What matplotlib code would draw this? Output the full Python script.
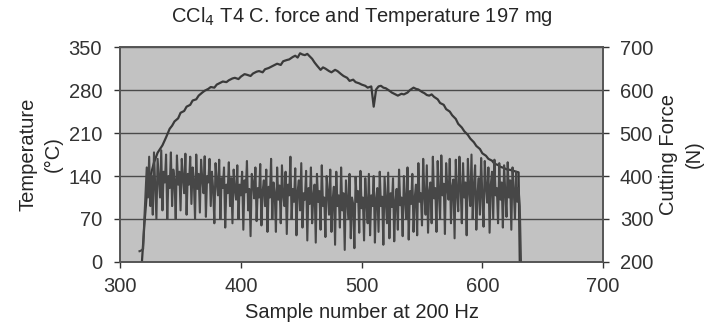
import numpy as np
import matplotlib
matplotlib.use('Agg')
import matplotlib.pyplot as plt

plt.rcParams['font.family'] = ['Liberation Sans', 'DejaVu Sans']

# smooth curve: temperature (left axis, deg C)
temp_x = [318, 320, 322, 325, 328, 331, 335, 338, 341, 343, 345, 348, 350, 353,
          355, 358, 360, 363, 365, 368, 370, 373, 375, 378, 380, 383, 385, 388,
          390, 393, 395, 398, 400, 403, 405, 408, 410, 413, 415, 418, 420, 423,
          425, 428, 430, 433, 435, 438, 440, 443, 445, 447, 449, 451, 453, 455,
          457, 459, 461, 463, 466, 468, 470, 473, 475, 478, 480, 483, 485, 488,
          490, 493, 495, 498, 500, 503, 505, 508, 510, 512, 514, 516, 518, 520,
          523, 525, 528, 530, 533, 535, 538, 540, 543, 545, 547, 550, 552, 554,
          556, 558, 560, 563, 565, 568, 570, 573, 575, 578, 580, 583, 585, 588,
          590, 593, 595, 598, 600, 603, 605, 608, 610, 613, 615, 618, 620, 623,
          625, 628, 630, 631]
temp_c = [0, 60, 110, 140, 162, 178, 190, 203, 217, 222, 229, 234, 243, 246,
          253, 256, 263, 265, 271, 276, 279, 282, 285, 284, 289, 292, 294, 293,
          296, 299, 300, 298, 302, 306, 305, 303, 307, 310, 311, 309, 314, 316,
          318, 321, 323, 321, 327, 329, 330, 334, 336, 333, 340, 338, 337, 339,
          335, 331, 325, 320, 313, 317, 315, 311, 309, 313, 311, 306, 303, 300,
          295, 297, 293, 291, 289, 287, 284, 286, 253, 281, 286, 287, 284, 283,
          279, 276, 273, 271, 274, 273, 276, 280, 284, 282, 281, 277, 275, 272,
          271, 273, 269, 265, 259, 256, 249, 245, 239, 233, 225, 219, 213, 207,
          201, 195, 189, 184, 177, 173, 168, 165, 160, 158, 155, 153, 151, 150,
          149, 147, 146, 0]

# noisy curve: cutting force (right axis, N), one value per sample from 316
force_start = 316
force_n = [
    225, 226, 228, 230, 300, 360, 420, 350, 445, 330, 400, 310, 455, 380, 300, 440, 395, 350, 460, 320,
    410, 385, 450, 300, 400, 372, 455, 330, 415, 390, 300, 448, 380, 410, 320, 440, 395, 360, 452, 310,
    405, 380, 445, 335, 420, 390, 300, 450, 370, 405, 315, 438, 392, 360, 446, 305, 400, 385, 440, 330,
    410, 370, 290, 430, 385, 355, 438, 300, 395, 372, 420, 280, 380, 360, 432, 330, 395, 290, 415, 368,
    345, 425, 300, 380, 355, 410, 275, 390, 362, 435, 320, 370, 260, 405, 385, 348, 420, 295, 372, 350,
    428, 285, 365, 390, 330, 415, 270, 375, 350, 440, 300, 385, 360, 270, 420, 345, 378, 290, 425, 355,
    330, 410, 265, 380, 355, 445, 300, 370, 340, 418, 262, 365, 390, 320, 430, 280, 360, 345, 412, 250,
    372, 335, 420, 290, 355, 380, 245, 405, 340, 365, 275, 425, 330, 350, 258, 400, 362, 310, 415, 270,
    345, 375, 240, 410, 330, 355, 280, 420, 320, 360, 228, 390, 345, 300, 405, 255, 350, 335, 232, 398,
    340, 365, 268, 412, 325, 350, 250, 395, 338, 290, 405, 262, 355, 330, 400, 245, 348, 372, 270, 410,
    330, 352, 240, 398, 345, 290, 408, 255, 360, 328, 395, 248, 342, 370, 275, 415, 332, 350, 260, 400,
    345, 300, 420, 252, 365, 335, 405, 270, 350, 380, 262, 430, 340, 360, 285, 440, 352, 310, 425, 268,
    365, 385, 290, 445, 348, 372, 270, 435, 360, 300, 448, 355, 382, 265, 430, 370, 345, 440, 290, 375,
    392, 255, 438, 360, 318, 445, 372, 290, 430, 350, 385, 262, 440, 368, 330, 450, 300, 378, 425, 275,
    360, 395, 310, 442, 352, 282, 435, 375, 338, 420, 268, 380, 410, 300, 438, 355, 372, 290, 430, 345,
    385, 280, 425, 362, 305, 432, 350, 390, 275, 420, 368, 300, 410, 340, 372, 330, 200,
]
force_x = np.arange(force_start, force_start + len(force_n))

x_ticks = [300, 400, 500, 600, 700]
temp_ticks = [0, 70, 140, 210, 280, 350]
force_ticks = [200, 300, 400, 500, 600, 700]

fs = 14.5
txt = '#262626'

fig = plt.figure(figsize=(7.07, 3.32), dpi=100)
fig.patch.set_facecolor('white')
ax = fig.add_axes([0.170, 0.211, 0.683, 0.647])
ax.set_facecolor('#c2c2c2')
ax2 = ax.twinx()

ax2.plot(force_x, force_n, color='#474747', lw=1.5, zorder=3)
ax.plot(temp_x, temp_c, color='#3a3a3a', lw=1.6, zorder=4)

ax.set_xlim(300, 700)
ax.set_ylim(0, 350)
ax2.set_ylim(200, 700)
ax.set_xticks(x_ticks)
ax.set_yticks(temp_ticks)
ax2.set_yticks(force_ticks)
ax.yaxis.grid(True, color='#4a4a4a', lw=1.0)
ax.set_axisbelow(True)

for a in (ax, ax2):
    for s in a.spines.values():
        s.set_color('#555555')
        s.set_linewidth(1.2)
    a.tick_params(labelsize=fs, colors='#333333', length=4, width=1)
ax.tick_params(axis='x', pad=7)
ax.tick_params(axis='y', pad=9)
ax2.tick_params(axis='y', pad=8)

ax.set_xlabel('Sample number at 200 Hz', fontsize=fs, color=txt, labelpad=5)
ax.set_ylabel('Temperature\n(°C)', fontsize=fs, color=txt, linespacing=1.45, labelpad=4)
ax2.set_ylabel('Cutting Force\n(N)', fontsize=fs, color=txt, linespacing=1.45,
               rotation=90, labelpad=4)
ax.set_title('CCl$_4$ T4 C. force and Temperature 197 mg', fontsize=fs, color=txt, pad=18)

fig.savefig('out.png', dpi=100)
